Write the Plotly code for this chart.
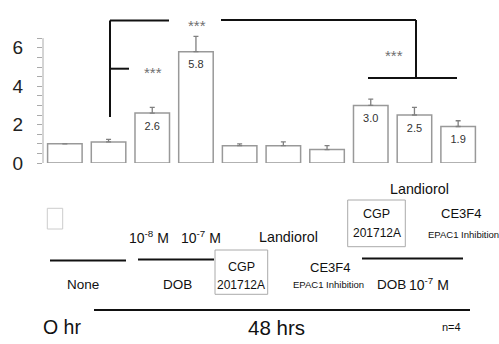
import plotly.graph_objects as go

categories = ["None 0 hr", "None 48 hrs", "DOB 10-8 M", "DOB 10-7 M", "CGP 201712A",
              "Landiorol", "CE3F4", "DOB+CGP", "DOB+Landiorol", "DOB+CE3F4"]
values = [1.0, 1.1, 2.6, 5.8, 0.9, 0.9, 0.7, 3.0, 2.5, 1.9]
errors = [0.0, 0.13, 0.3, 0.8, 0.1, 0.2, 0.2, 0.33, 0.4, 0.3]
labeled = [2, 3, 7, 8, 9]          # bars that carry a value label
y_tickvals = [0, 2, 4, 6]

W, H = 499, 344
ML, MR, MT, MB = 43, 19, 35, 181
PW, PH = W - ML - MR, H - MT - MB

def px(x):
    return (x - ML) / PW

def py(y):
    return (H - MB - y) / PH

FONT = "Liberation Sans, Arial, sans-serif"

fig = go.Figure()
fig.add_trace(go.Bar(
    x=categories, y=values,
    marker=dict(color="white", line=dict(color="#999999", width=1.5)),
    error_y=dict(type="data", symmetric=False, array=errors, arrayminus=[0] * len(errors),
                 color="#808080", thickness=1.3, width=2.5),
    hoverinfo="skip", showlegend=False,
))
fig.add_trace(go.Scatter(
    x=[categories[i] for i in labeled],
    y=[values[i] - 0.72 for i in labeled],
    text=[f"{values[i]:.1f}" for i in labeled],
    mode="text", textposition="middle center",
    textfont=dict(family=FONT, size=11, color="#333333"),
    hoverinfo="skip", showlegend=False,
))

shapes = []
def line(x0, y0, x1, y1, color="#111111", width=2):
    shapes.append(dict(type="line", xref="paper", yref="paper",
                       x0=px(x0), y0=py(y0), x1=px(x1), y1=py(y1),
                       line=dict(color=color, width=width)))

def rect(x0, y0, x1, y1, color="#aaaaaa"):
    shapes.append(dict(type="rect", xref="paper", yref="paper",
                       x0=px(x0), y0=py(y0), x1=px(x1), y1=py(y1),
                       line=dict(color=color, width=1), fillcolor="rgba(0,0,0,0)"))

# y axis line
shapes.append(dict(type="line", xref="paper", yref="y", x0=0, x1=0, y0=0, y1=6.5,
                   line=dict(color="#aaaaaa", width=1)))

# significance brackets
line(110, 20.5, 110, 117)
line(110, 20.5, 169, 20.5)
line(221, 20, 416, 20)
line(416, 20, 416, 78)
line(368, 78, 457, 78)
line(110, 68.7, 129, 68.7)

# lower treatment lines
line(50, 260.5, 126, 260.5)
line(138, 259.5, 214, 259.5)
line(362, 258.5, 463, 258.5)
line(94, 310, 470, 310)

# boxes
rect(47.3, 208.3, 62.7, 229, color="#cccccc")
rect(215, 250, 267.7, 294.3)
rect(347.7, 200, 405.3, 246.7)

annotations = []
def text(x, y, s, size, color="#111111", family=FONT):
    annotations.append(dict(xref="paper", yref="paper", x=px(x), y=py(y), text=s,
                            showarrow=False, xanchor="center", yanchor="middle",
                            font=dict(family=family, size=size, color=color)))

# stars
text(197, 25, "***", 15, color="#707070")
text(153, 72, "***", 15, color="#707070")
text(394, 55, "***", 15, color="#707070")

# treatment labels
text(149, 237, "10<sup>-8</sup> M", 14)
text(201, 237, "10<sup>-7</sup> M", 14)
text(83, 284, "None", 13.5)
text(177, 284, "DOB", 13.5)
text(241, 267, "CGP", 12.5)
text(241, 285, "201712A", 12)
text(288.5, 237, "Landiorol", 14.3)
text(330, 267, "CE3F4", 13)
text(328, 284, "EPAC1 Inhibition", 9.5)
text(391, 284, "DOB", 13.5)
text(429, 284, "10<sup>-7</sup> M", 14)
text(376.5, 214, "CGP", 12.5)
text(376.5, 233, "201712A", 12)
text(419.5, 189, "Landiorol", 14.3)
text(461, 213, "CE3F4", 13)
text(463, 234, "EPAC1 Inhibition", 9.5)
text(62, 327, "O hr", 19.5)
text(276, 327, "48 hrs", 20.5)
text(451, 327, "n=4", 11)

fig.update_layout(
    width=W, height=H, autosize=False,
    margin=dict(l=ML, r=MR, t=MT, b=MB, pad=0),
    paper_bgcolor="white", plot_bgcolor="white",
    bargap=0.21,
    shapes=shapes, annotations=annotations,
    xaxis=dict(range=[-0.5, 9.5], showticklabels=False, showgrid=False, zeroline=False,
               showline=False, ticks=""),
    yaxis=dict(range=[0, PH / 19.2], tickvals=y_tickvals, ticks="outside", ticklen=5,
               tickcolor="#aaaaaa", tickwidth=1, showgrid=False, zeroline=False, showline=False,
               ticklabelstandoff=10,
               tickfont=dict(family=FONT, size=19, color="#222222"),
               minor=dict(dtick=0.5, tick0=0, ticks="outside", ticklen=5, tickcolor="#aaaaaa",
                          tickwidth=1, showgrid=False)),
)
fig.write_html("out.html", config={"displayModeBar": False},
               post_script="document.body.style.margin='0';document.body.style.overflow='hidden';")
